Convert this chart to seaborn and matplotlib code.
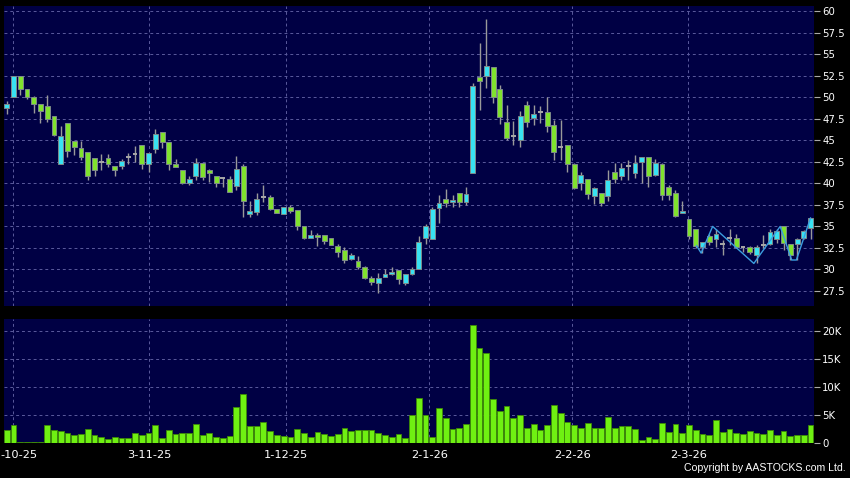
"""AASTOCKS-style daily candlestick chart with volume panel."""

import matplotlib
matplotlib.use("Agg")
import matplotlib.pyplot as plt
import matplotlib.transforms as mtransforms
import numpy as np
import pandas as pd
import seaborn as sns

# ---- data ----------------------------------------------------------------
opens = [
    48.7, 50.06, 52.4, 50.9, 50.06, 49.2, 49.0, 47.8, 42.3, 47.0,
    44.9, 44.1, 43.6, 42.9, 42.43, 42.9, 41.97, 41.97, 43.0, 43.44,
    44.5, 42.3, 44.0, 46.0, 44.8, 42.3, 41.5, 40.07, 40.9, 42.4,
    41.5, 40.85, 40.65, 40.46, 39.7, 42.0, 36.47, 36.7, 38.45, 38.4,
    37.0, 36.4, 37.2, 36.9, 35.1, 33.6, 33.96, 34.0, 33.6, 32.7,
    32.26, 31.17, 31.0, 30.25, 29.0, 28.47, 29.16, 29.43, 29.9, 28.47,
    29.43, 30.0, 33.7, 33.5, 37.1, 38.14, 37.8, 38.83, 37.87, 41.2,
    52.3, 52.4, 53.5, 50.9, 47.1, 45.5, 45.0, 49.05, 47.54, 48.25,
    48.24, 46.8, 44.25, 44.5, 42.24, 40.07, 40.46, 38.53, 38.83, 38.56,
    41.27, 40.9, 42.0, 41.16, 42.5, 43.0, 40.96, 42.3, 39.53, 38.9,
    36.6, 35.85, 34.7, 32.65, 33.9, 33.57, 32.95, 33.65, 33.65, 32.65,
    32.65, 31.68, 32.84, 33.0, 33.57, 35.0, 33.0, 32.96, 33.65, 34.77,
]
highs = [
    49.55, 52.45, 52.45, 50.9, 50.1, 49.2, 50.3, 47.8, 46.6, 47.0,
    44.9, 44.95, 43.6, 42.9, 43.4, 43.4, 42.0, 42.8, 43.5, 44.33,
    44.5, 43.5, 46.3, 46.0, 44.8, 42.8, 41.5, 40.8, 42.9, 42.4,
    41.7, 40.85, 40.7, 40.85, 43.2, 42.3, 37.9, 38.9, 39.8, 38.6,
    37.0, 37.3, 37.48, 36.9, 35.1, 34.6, 34.2, 34.0, 33.6, 33.0,
    32.57, 31.9, 31.57, 30.4, 29.2, 29.55, 30.1, 30.3, 29.9, 29.5,
    30.3, 33.9, 35.3, 37.2, 38.6, 39.3, 38.64, 38.83, 39.6, 51.6,
    56.3, 59.1, 53.5, 51.4, 49.1, 47.27, 48.4, 49.55, 49.1, 48.97,
    50.0, 47.35, 47.35, 44.5, 42.4, 41.35, 40.5, 39.6, 38.9, 41.54,
    42.4, 42.4, 42.7, 43.3, 43.1, 43.0, 42.86, 42.4, 39.8, 39.2,
    37.9, 35.9, 34.7, 33.2, 34.1, 34.65, 33.4, 34.65, 34.1, 32.7,
    32.7, 32.8, 34.0, 34.65, 34.7, 35.0, 33.0, 33.6, 34.6, 36.0,
]
lows = [
    48.1, 50.0, 50.25, 49.75, 48.2, 47.0, 47.15, 45.5, 42.3, 43.0,
    43.3, 42.7, 40.4, 40.85, 41.55, 41.9, 40.8, 41.7, 42.2, 42.5,
    41.7, 41.35, 43.5, 44.06, 41.6, 41.9, 39.9, 39.8, 40.4, 40.4,
    40.1, 39.6, 39.6, 39.0, 39.2, 36.1, 36.05, 36.3, 37.87, 36.9,
    36.5, 36.4, 36.5, 34.6, 33.5, 33.6, 32.7, 33.0, 32.8, 31.4,
    30.8, 31.1, 30.1, 28.85, 28.2, 27.3, 29.1, 29.35, 28.3, 28.2,
    29.4, 30.0, 33.0, 33.5, 35.4, 37.3, 37.3, 37.2, 37.5, 41.2,
    48.5, 51.1, 49.3, 46.9, 45.0, 44.44, 44.25, 46.5, 46.77, 47.0,
    45.9, 42.7, 42.7, 41.35, 39.3, 39.2, 38.2, 37.6, 37.4, 37.98,
    40.07, 40.4, 40.38, 40.58, 40.0, 39.6, 40.8, 38.1, 38.06, 36.05,
    36.55, 33.5, 32.5, 31.87, 32.8, 32.65, 31.68, 32.84, 32.45, 32.06,
    31.8, 30.7, 32.45, 32.9, 33.1, 32.3, 31.1, 31.1, 33.5, 33.5,
]
closes = [
    49.2, 52.4, 50.9, 50.06, 49.17, 48.4, 47.5, 45.6, 45.5, 43.75,
    44.2, 43.0, 40.9, 41.5, 42.43, 42.3, 41.6, 42.6, 43.0, 43.44,
    42.3, 43.5, 45.7, 44.8, 42.3, 41.9, 40.0, 40.46, 42.4, 40.7,
    41.2, 40.07, 40.65, 39.03, 41.7, 37.9, 36.78, 38.14, 38.45, 37.0,
    36.6, 37.3, 36.8, 35.1, 33.7, 34.0, 33.73, 33.3, 32.9, 32.06,
    31.1, 31.68, 30.3, 28.97, 28.6, 28.97, 29.47, 29.7, 28.93, 29.43,
    30.0, 33.2, 35.0, 37.0, 37.7, 37.67, 38.06, 37.8, 38.76, 51.3,
    51.9, 53.6, 50.0, 47.7, 45.3, 45.5, 47.85, 47.15, 48.0, 48.25,
    46.7, 43.6, 44.25, 42.24, 39.5, 40.96, 38.72, 39.42, 37.67, 40.38,
    40.46, 41.8, 42.0, 42.4, 43.0, 40.85, 42.32, 38.7, 38.6, 36.2,
    36.75, 33.9, 32.7, 33.15, 33.15, 34.15, 32.95, 33.65, 32.57, 32.65,
    32.0, 32.65, 32.84, 34.38, 34.46, 33.1, 31.7, 33.49, 34.5, 35.93,
]
volumes_k = [
    2.3, 3.2, 0.3, 0.2, 0.2, 0.3, 3.2, 2.4, 2.1, 1.8,
    1.5, 1.6, 2.6, 1.4, 1.2, 0.8, 1.2, 0.9, 1.0, 1.8,
    1.5, 1.8, 3.2, 1.0, 2.3, 1.7, 1.9, 1.8, 3.5, 1.5,
    1.8, 1.1, 1.0, 1.3, 6.4, 8.8, 3.0, 3.0, 3.8, 2.2,
    1.4, 1.3, 1.2, 2.6, 1.8, 1.2, 2.0, 1.7, 1.3, 1.7,
    2.8, 2.1, 2.3, 2.3, 2.3, 1.8, 1.4, 1.2, 1.6, 1.0,
    5.1, 8.0, 5.1, 1.2, 6.2, 4.5, 2.5, 2.7, 3.4, 21.0,
    16.9, 16.0, 7.9, 5.8, 6.6, 4.5, 5.0, 2.8, 3.4, 2.3,
    3.2, 6.8, 5.3, 3.8, 3.3, 2.7, 3.6, 2.7, 2.7, 4.7,
    2.8, 3.1, 3.0, 2.6, 0.5, 1.1, 0.8, 3.6, 2.0, 3.4,
    1.8, 3.3, 2.4, 1.7, 1.5, 4.2, 2.0, 2.5, 1.9, 1.7,
    2.1, 1.9, 1.7, 2.3, 1.5, 2.2, 1.3, 1.5, 1.4, 3.3,
]
# zig-zag pattern overlay (bar index, price)
zigzag_x = [102.1, 102.8, 104.5, 110.6, 114.5, 116.2, 116.9, 119.0]
zigzag_y = [32.8, 31.9, 35.0, 30.7, 35.0, 31.1, 31.1, 36.0]

date_ticks = [0.98, 21.1, 41.3, 62.55, 83.7, 100.9]
# the first date label is shown cut at the left edge in the original
date_labels = ["-10-25", "3-11-25", "1-12-25", "2-1-26", "2-2-26", "2-3-26"]
price_ticks = [27.5, 30, 32.5, 35, 37.5, 40, 42.5, 45, 47.5, 50, 52.5, 55, 57.5, 60]
vol_ticks = [0, 5, 10, 15, 20]

# ---- style ---------------------------------------------------------------
sns.set_style("dark")
plt.rcParams["font.family"] = ["DejaVu Sans"]

BG = "#000044"
GRID = "#5a5a9c"
UP = "#38e2f2"
DOWN = "#80e22e"
WICK = "#9a9a9a"
VOL = "#6ff012"

df = pd.DataFrame({
    "idx": np.arange(len(opens)),
    "open": opens, "high": highs, "low": lows, "close": closes,
    "vol": volumes_k,
})
df["body_lo"] = df[["open", "close"]].min(axis=1)
df["body_h"] = (df["close"] - df["open"]).abs()
df["color"] = np.where(df["close"] >= df["open"], UP, DOWN)
doji = df["body_h"] < 0.05

fig = plt.figure(figsize=(8.5, 4.78), dpi=100, facecolor="black")
ax = fig.add_axes([0.0047, 0.3598, 0.9529, 0.6276])
axv = fig.add_axes([0.0047, 0.0726, 0.9529, 0.2600], sharex=ax)

for a in (ax, axv):
    a.set_facecolor(BG)
    for s in a.spines.values():
        s.set_visible(False)
    a.grid(True, color=GRID, linestyle=(0, (3, 3)), linewidth=0.7)
    a.set_axisbelow(True)
    a.yaxis.tick_right()
    a.tick_params(axis="y", colors="#aaaaaa", labelcolor="white",
                  length=4, width=0.8, pad=2, labelsize=7.3)

# candles
ax.vlines(df["idx"], df["low"], df["high"], color=WICK, linewidth=1.0, zorder=2)
solid = df[~doji]
ax.bar(solid["idx"], solid["body_h"], bottom=solid["body_lo"], width=0.72,
       color=solid["color"], edgecolor="#7d8a8a", linewidth=0.7, zorder=3)
flat = df[doji]
ax.hlines(flat["open"], flat["idx"] - 0.36, flat["idx"] + 0.36,
          color="#a8a8a8", linewidth=1.4, zorder=3)
sns.lineplot(x=zigzag_x, y=zigzag_y, sort=False, ax=ax, color="#3b9ee0",
             linewidth=1.0, zorder=4)

ax.set_ylim(25.76, 60.58)
ax.set_yticks(price_ticks)
ax.set_yticklabels([f"{t:g}" for t in price_ticks])
ax.set_xticks(date_ticks)
ax.tick_params(axis="x", length=0, labelbottom=False)
ax.set_xlabel("")
ax.set_ylabel("")

# volume
sns.barplot(data=df, x="idx", y="vol", native_scale=True, ax=axv,
            color=VOL, saturation=1, width=0.86, errorbar=None,
            edgecolor="#3d8a06", linewidth=0.6, zorder=3)
axv.set_ylim(0, 22.1)
axv.set_yticks(vol_ticks)
axv.set_yticklabels([f"{t}K" if t else "0" for t in vol_ticks])
axv.set_xlim(-0.4, 119.5)
axv.set_xticks(date_ticks)
axv.set_xticklabels(date_labels)
axv.tick_params(axis="x", colors="#aaaaaa", labelcolor="white",
                length=3, width=0.8, pad=2, labelsize=8.2)
# shift the edge label so it starts at the figure border, as in the original
first = axv.xaxis.get_major_ticks()[0].label1
first.set_horizontalalignment("left")
first.set_transform(first.get_transform()
                    + mtransforms.ScaledTranslation(-0.125, 0, fig.dpi_scale_trans))
axv.set_xlabel("")
axv.set_ylabel("")

fig.text(0.9953, 0.0105, "Copyright by AASTOCKS.com Ltd.", ha="right",
         va="bottom", color="white", fontsize=7.6, family="Liberation Sans")

fig.savefig("out.png", dpi=100, facecolor="black")
